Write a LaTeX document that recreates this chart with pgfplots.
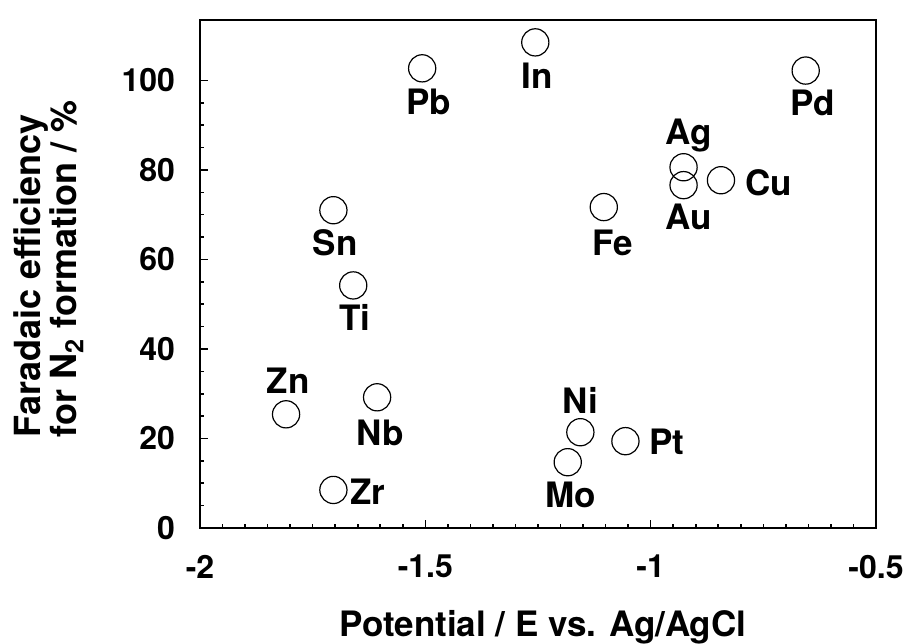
\documentclass[border=0pt]{standalone}
\usepackage{fontspec}
\setmainfont{TeX Gyre Heros}
\usepackage{pgfplots}
\usepackage{pgfplotstable}
\pgfplotsset{compat=1.18}

\pgfplotstableread{
x y
-1.507 102.7
-1.256 108.5
-0.656 102.2
-0.927 80.6
-0.927 76.6
-0.844 77.7
-1.704 71.0
-1.104 71.7
-1.660 54.2
-1.809 25.4
-1.607 29.2
-1.156 21.4
-1.056 19.4
-1.184 14.7
-1.704 8.5
}\points

\pgfplotstableread{
x y label
-1.493 95.1 Pb
-1.251 101.1 In
-0.640 94.9 Pd
-0.916 87.7 Ag
-0.916 69.4 Au
-0.738 77.2 Cu
-1.700 63.8 Sn
-1.084 63.6 Fe
-1.656 47.1 Ti
-1.804 32.8 Zn
-1.600 21.2 Nb
-1.156 28.6 Ni
-0.964 19.2 Pt
-1.178 7.4 Mo
-1.627 8.0 Zr
}\labels

\begin{document}
\begin{tikzpicture}
\begin{axis}[
  scale only axis, width=338bp, height=254bp,
  xmin=-2, xmax=-0.5, ymin=0, ymax=113.5,
  xtick={-2,-1.5,-1,-0.5}, ytick={0,20,...,100},
  minor x tick num=9, minor y tick num=3,
  tick align=inside, tick pos=left,
  major tick length=4bp, minor tick length=2bp,
  axis line style={line width=1.1bp},
  every tick/.style={line width=0.8bp, black},
  /pgf/number format/assume math mode=true,
  ticklabel style={font=\fontsize{16bp}{18bp}\selectfont\bfseries},
  xticklabel style={yshift=-10bp},
  yticklabel style={xshift=-9bp},
  xlabel={Potential / E vs. Ag/AgCl},
  ylabel={Faradaic efficiency\\for N\textsubscript{2} formation / \%},
  label style={inner sep=0pt},
  xlabel style={font=\fontsize{17.5bp}{16bp}\selectfont\bfseries, at={(rel axis cs:0.507,0)}, anchor=north, yshift=-41bp},
  ylabel style={font=\fontsize{18bp}{15bp}\selectfont\bfseries, align=left, at={(rel axis cs:-0.172,0.51)}, anchor=south},
  clip=false,
]
\addplot[only marks, mark=o, mark size=6.8bp, mark options={line width=0.6bp, black}] table[x=x, y=y] {\points};
\addplot[draw=none, nodes near coords, point meta=explicit symbolic,
  every node near coord/.append style={anchor=center, inner sep=0pt, font=\fontsize{17.5bp}{17.5bp}\selectfont\bfseries}]
  table[x=x, y=y, meta=label] {\labels};
\end{axis}
\pgfresetboundingbox
\path ([shift={(-100bp,-58bp)}]current axis.south west) rectangle ([shift={(356.5bp,264bp)}]current axis.south west);
\end{tikzpicture}
\end{document}
